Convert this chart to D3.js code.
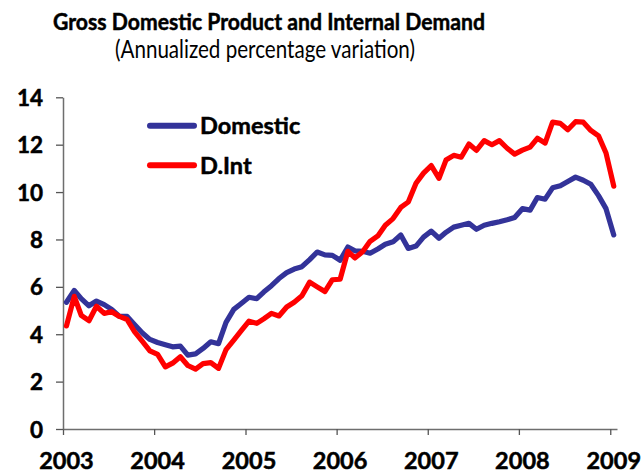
<!DOCTYPE html>
<html>
<head>
<meta charset="utf-8">
<script src="https://cdn.jsdelivr.net/npm/d3@7"></script>
<style>
  html, body { margin: 0; padding: 0; background: #fff; }
  svg { display: block; }
</style>
</head>
<body>
<svg id="chart" width="644" height="474"></svg>
<script>
// ---- Data (monthly, Jan 2003 – Jan 2009) ----
const titleText = "Gross Domestic Product and Internal Demand";
const subtitleText = "(Annualized percentage variation)";
const seriesNames = ["Domestic", "D.Int"];
const startYear = 2003, startMonth = 0, monthCount = 73;
const yearTicks = [2003, 2004, 2005, 2006, 2007, 2008, 2009];
const yTicks = [0, 2, 4, 6, 8, 10, 12, 14];

const domestic = [
  5.35, 5.85, 5.5, 5.2, 5.4, 5.25, 5.05, 4.75, 4.75, 4.4, 4.05, 3.78,
  3.65, 3.56, 3.47, 3.5, 3.12, 3.17, 3.4, 3.68, 3.6, 4.5, 5.05, 5.3,
  5.56, 5.5, 5.78, 6.05, 6.35, 6.6, 6.75, 6.85, 7.15, 7.47, 7.35, 7.33,
  7.12, 7.68, 7.52, 7.5, 7.42, 7.6, 7.8, 7.9, 8.19, 7.62, 7.72, 8.1,
  8.35, 8.05, 8.3, 8.52, 8.6, 8.68, 8.43, 8.6, 8.68, 8.75, 8.83, 8.93,
  9.3, 9.24, 9.77, 9.7, 10.18, 10.27, 10.45, 10.63, 10.5, 10.33, 9.85, 9.3,
  8.19
];
const internalDemand = [
  4.35, 5.6, 4.8, 4.57, 5.18, 4.88, 4.95, 4.75, 4.62, 4.1, 3.7, 3.3,
  3.15, 2.62, 2.78, 3.05, 2.68, 2.53, 2.76, 2.8, 2.56, 3.35, 3.75, 4.15,
  4.55, 4.46, 4.65, 4.88, 4.77, 5.15, 5.35, 5.62, 6.2, 6.0, 5.8, 6.3,
  6.32, 7.5, 7.22, 7.48, 7.92, 8.15, 8.6, 8.88, 9.35, 9.58, 10.37, 10.8,
  11.12, 10.58, 11.35, 11.55, 11.47, 12.03, 11.76, 12.17, 12.0, 12.17, 11.85, 11.6,
  11.77, 11.9, 12.27, 12.07, 12.95, 12.9, 12.63, 12.97, 12.95, 12.6, 12.37, 11.65,
  10.25
];
const seriesColors = ["#333399", "#ff0000"];

// ---- Build ----
const dates = d3.range(monthCount).map(i => new Date(startYear, startMonth + i, 15));
const series = [
  { name: seriesNames[0], values: domestic, color: seriesColors[0] },
  { name: seriesNames[1], values: internalDemand, color: seriesColors[1] }
];

const svg = d3.select("#chart");
const FONT = "Lato, 'Open Sans', 'DejaVu Sans', sans-serif";

const x = d3.scaleTime()
  .domain([new Date(2003, 0, 1), new Date(2009, 0, 28)])
  .range([63, 617]);
const y = d3.scaleLinear().domain([0, 14]).range([429, 97.3]);

// Title
svg.append("text")
  .attr("x", 269).attr("y", 30)
  .attr("text-anchor", "middle")
  .attr("font-family", FONT).attr("font-weight", "bold").attr("font-size", 23.5)
  .attr("stroke", "#000").attr("stroke-width", 0.5)
  .attr("textLength", 432).attr("lengthAdjust", "spacingAndGlyphs")
  .text(titleText);
svg.append("text")
  .attr("x", 265).attr("y", 58)
  .attr("text-anchor", "middle")
  .attr("font-family", FONT).attr("font-size", 24.5)
  .attr("textLength", 300).attr("lengthAdjust", "spacingAndGlyphs")
  .text(subtitleText);

// X axis
const xAxis = d3.axisBottom(x)
  .tickValues(yearTicks.map(yr => new Date(yr, 0, 1)))
  .tickFormat(d3.timeFormat("%Y"))
  .tickSize(6).tickSizeOuter(0).tickPadding(17);
const gx = svg.append("g").attr("transform", "translate(0,429)").call(xAxis);
gx.select(".domain").attr("stroke", "#6e6e6e").attr("stroke-width", 1.5);
gx.selectAll(".tick line").attr("stroke", "#555").attr("stroke-width", 1.3);
gx.selectAll(".tick text")
  .attr("font-family", FONT).attr("font-weight", "bold").attr("font-size", 23.5)
  .attr("stroke", "#000").attr("stroke-width", 0.5)
  .attr("fill", "#000").attr("dx", 3);

// Y axis
const yAxis = d3.axisLeft(y).tickValues(yTicks).tickSize(7).tickSizeOuter(0).tickPadding(13);
const gy = svg.append("g").attr("transform", "translate(63,0)").call(yAxis);
gy.select(".domain").attr("stroke", "#6e6e6e").attr("stroke-width", 1.5);
gy.selectAll(".tick line").attr("stroke", "#555").attr("stroke-width", 1.3);
gy.selectAll(".tick text")
  .attr("font-family", FONT).attr("font-weight", "bold").attr("font-size", 22.5)
  .attr("stroke", "#000").attr("stroke-width", 0.5)
  .attr("fill", "#000").attr("dy", "0.36em");

// Lines
const line = d3.line()
  .x((d, i) => x(dates[i]))
  .y(d => y(d));
svg.selectAll("path.series").data(series).join("path")
  .attr("class", "series")
  .attr("fill", "none")
  .attr("stroke", d => d.color)
  .attr("stroke-width", 5.2)
  .attr("stroke-linejoin", "round")
  .attr("stroke-linecap", "round")
  .attr("d", d => line(d.values));

// Legend
const legend = svg.append("g");
series.forEach((s, k) => {
  const ly = 125.7 + k * 39.6;
  legend.append("line")
    .attr("x1", 150).attr("x2", 194).attr("y1", ly).attr("y2", ly)
    .attr("stroke", s.color).attr("stroke-width", 6).attr("stroke-linecap", "round");
  legend.append("text")
    .attr("x", 200).attr("y", ly).attr("dy", "0.36em")
    .attr("font-family", FONT).attr("font-weight", "bold").attr("font-size", 23.5)
    .attr("stroke", "#000").attr("stroke-width", 0.5)
    .text(s.name);
});
</script>
</body>
</html>
